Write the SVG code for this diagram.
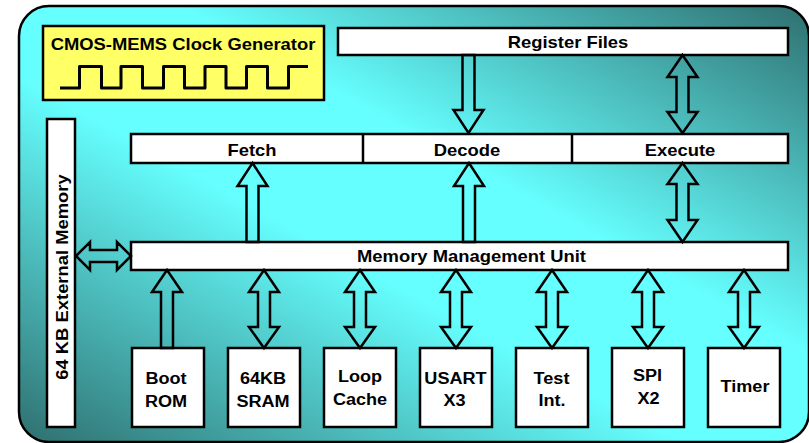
<svg xmlns="http://www.w3.org/2000/svg" xmlns:xlink="http://www.w3.org/1999/xlink" width="809" height="443" viewBox="0 0 809 443">
<defs>
<linearGradient id="bg" x1="0" y1="1" x2="1" y2="0">
<stop offset="0" stop-color="#2f6f6f"/>
<stop offset="0.42" stop-color="#66ffff"/>
<stop offset="0.6" stop-color="#66ffff"/>
<stop offset="1" stop-color="#2f6f6f"/>
</linearGradient>
<path id="dbl" d="M0,270 L15,292 L6,292 L6,327 L15,327 L0,348 L-15,327 L-6,327 L-6,292 L-15,292 Z"/>
</defs>
<style>
.box{fill:#ffffff;stroke:#000;stroke-width:2.5}
.arr{fill:none;stroke:#000;stroke-width:2.5;stroke-linejoin:miter}
.t{font-family:"Liberation Sans",Arial,sans-serif;font-weight:bold;font-size:16px;fill:#000;text-anchor:middle}
</style>
<rect x="19" y="6" width="790" height="436" rx="30" ry="30" fill="url(#bg)" stroke="#000" stroke-width="2.5"/>

<g id="clock">
<rect x="43" y="26" width="281" height="74" fill="#ffff66" stroke="#000" stroke-width="2.5"/>
<text class="t" transform="translate(183,50) scale(1.15,1)">CMOS-MEMS Clock Generator</text>
<path d="M60,88 H79.5 V66.5 H101.5 V88 H121 V66.5 H142.5 V88 H163.5 V66.5 H184.5 V88 H205 V66.5 H226 V88 H246.5 V66.5 H267.5 V88 H288.5 V66.5 H308" fill="none" stroke="#000" stroke-width="3" stroke-linejoin="round"/>
</g>

<g id="register-files">
<rect class="box" x="338" y="28" width="450" height="27"/>
<text class="t" transform="translate(568,48) scale(1.15,1)">Register Files</text>
</g>

<g id="pipeline">
<rect class="box" x="131" y="134" width="657" height="29"/>
<line x1="363" y1="134" x2="363" y2="163" stroke="#000" stroke-width="2.5"/>
<line x1="572" y1="134" x2="572" y2="163" stroke="#000" stroke-width="2.5"/>
</g>
<g id="fetch"><text class="t" transform="translate(252,155.5) scale(1.15,1)">Fetch</text></g>
<g id="decode"><text class="t" transform="translate(467,155.5) scale(1.15,1)">Decode</text></g>
<g id="execute"><text class="t" transform="translate(680,155.5) scale(1.15,1)">Execute</text></g>

<g id="mmu">
<rect class="box" x="131" y="242" width="657" height="28"/>
<text class="t" transform="translate(471.5,262) scale(1.15,1)">Memory Management Unit</text>
</g>

<g id="ext-mem">
<rect class="box" x="47" y="119" width="28" height="308"/>
<text class="t" transform="translate(67.5,277) rotate(-90) scale(1.15,1)">64 KB External Memory</text>
</g>

<g id="boot-rom">
<rect class="box" x="132" y="348" width="72" height="79"/>
<text class="t" transform="translate(166,383.5) scale(1.13,1)">Boot</text>
<text class="t" transform="translate(166,406.5) scale(1.13,1)">ROM</text>
</g>
<g id="sram">
<rect class="box" x="228" y="348" width="72" height="79"/>
<text class="t" transform="translate(263,383.5) scale(1.13,1)">64KB</text>
<text class="t" transform="translate(263,406.5) scale(1.13,1)">SRAM</text>
</g>
<g id="loop-cache">
<rect class="box" x="324" y="348" width="72" height="79"/>
<text class="t" transform="translate(360,382) scale(1.13,1)">Loop</text>
<text class="t" transform="translate(360,405) scale(1.13,1)">Cache</text>
</g>
<g id="usart">
<rect class="box" x="420" y="348" width="72" height="79"/>
<text class="t" transform="translate(455.5,384) scale(1.13,1)">USART</text>
<text class="t" transform="translate(454.5,406) scale(1.13,1)">X3</text>
</g>
<g id="test-int">
<rect class="box" x="516" y="348" width="72" height="79"/>
<text class="t" transform="translate(551.5,384) scale(1.13,1)">Test</text>
<text class="t" transform="translate(552,406) scale(1.13,1)">Int.</text>
</g>
<g id="spi">
<rect class="box" x="612" y="348" width="72" height="79"/>
<text class="t" transform="translate(647.5,380.5) scale(1.13,1)">SPI</text>
<text class="t" transform="translate(648.5,403.5) scale(1.13,1)">X2</text>
</g>
<g id="timer">
<rect class="box" x="708" y="348" width="72" height="79"/>
<text class="t" transform="translate(745,391.5) scale(1.13,1)">Timer</text>
</g>

<g id="connectors">
<path class="arr" d="M682.5,55 L697.5,77 L688.5,77 L688.5,112 L697.5,112 L682.5,133 L667.5,112 L676.5,112 L676.5,77 L667.5,77 Z"/>
<path class="arr" d="M462.5,55 L474.5,55 L474.5,110 L483.5,110 L468.5,133 L453.5,110 L462.5,110 Z"/>
<path class="arr" d="M252.5,163 L267.5,186 L258.5,186 L258.5,242 L246.5,242 L246.5,186 L237.5,186 Z"/>
<path class="arr" d="M469,163 L484,186 L475,186 L475,242 L463,242 L463,186 L454,186 Z"/>
<path class="arr" d="M682.5,163 L697.5,184 L688.5,184 L688.5,220 L697.5,220 L682.5,242 L667.5,220 L676.5,220 L676.5,184 L667.5,184 Z"/>
<path class="arr" d="M76,256 L90,242 L90,250 L117,250 L117,242 L131,256 L117,270 L117,262 L90,262 L90,270 Z"/>
<path class="arr" d="M167,270 L182,292 L173,292 L173,348 L161,348 L161,292 L152,292 Z"/>
<use xlink:href="#dbl" class="arr" x="264"/>
<use xlink:href="#dbl" class="arr" x="360"/>
<use xlink:href="#dbl" class="arr" x="456"/>
<use xlink:href="#dbl" class="arr" x="552"/>
<use xlink:href="#dbl" class="arr" x="648"/>
<use xlink:href="#dbl" class="arr" x="744"/>
</g>
</svg>
